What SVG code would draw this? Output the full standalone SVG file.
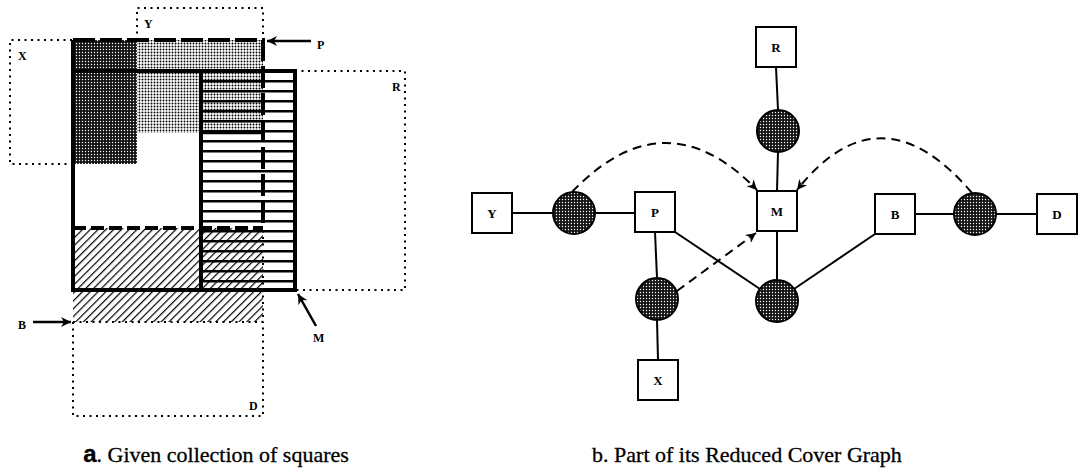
<svg xmlns="http://www.w3.org/2000/svg" width="1080" height="475" viewBox="0 0 1080 475">
<style>
.thick{stroke:#000;stroke-width:4;fill:none}
.pdash{stroke:#000;stroke-width:4;fill:none;stroke-dasharray:22 5}
.dot{stroke:#000;stroke-width:2;fill:none;stroke-dasharray:2 4.5}
.lbl{font-family:"Liberation Serif",serif;font-weight:bold;font-size:12px;fill:#000}
.glbl{font-family:"Liberation Serif",serif;font-weight:bold;font-size:13px;fill:#000;text-anchor:middle}
.node rect{fill:#fff;stroke:#000;stroke-width:2}
.hub circle{fill:url(#dark);stroke:#000;stroke-width:2}
.edge{stroke:#000;stroke-width:2;fill:none}
.dash{stroke:#000;stroke-width:2;fill:none;stroke-dasharray:9 6}
.cap{font-family:"Liberation Serif",serif;font-size:22px;fill:#000;stroke:#000;stroke-width:0.3;text-anchor:middle}
.arr{stroke:#000;stroke-width:2.5;fill:none}
</style>
<defs>
<pattern id="dark" width="3" height="3" patternUnits="userSpaceOnUse">
<rect width="3" height="3" fill="#151515"/>
<circle cx="1.5" cy="1.5" r="0.7" fill="#fff"/>
</pattern>
<pattern id="light" width="3" height="3" patternUnits="userSpaceOnUse">
<rect width="3" height="3" fill="#fff"/>
<circle cx="1.5" cy="1.5" r="0.95" fill="#000"/>
</pattern>
<pattern id="stripes" width="10" height="10" patternUnits="userSpaceOnUse">
<rect y="0" width="10" height="2.5" fill="#000"/>
</pattern>
<pattern id="hatch" width="5.5" height="5.5" patternUnits="userSpaceOnUse" patternTransform="rotate(45)">
<line x1="0" y1="0" x2="0" y2="5.5" stroke="#000" stroke-width="2.4"/>
</pattern>
<marker id="ah" viewBox="0 0 10 10" refX="10" refY="5" markerWidth="12" markerHeight="10" markerUnits="userSpaceOnUse" orient="auto">
<path d="M0,0 L10,5 L0,10 L3,5 z" fill="#000"/>
</marker>
</defs>

<!-- a. collection of squares -->
<g id="squares">
<rect x="137" y="40" width="126" height="93" fill="url(#light)"/>
<rect x="72" y="40" width="65" height="124" fill="url(#dark)"/>
<rect x="73" y="228" width="190" height="94" fill="url(#hatch)"/>
<rect x="201" y="71" width="94" height="219" fill="url(#stripes)"/>
<!-- dotted outlines -->
<path class="dot" d="M72,40 H10 V164 H72"/>
<path class="dot" d="M137,40 V8 H263 V40"/>
<path class="dot" d="M295,71 H405 V290 H295"/>
<path class="dot" d="M73,322 H263 V228"/>
<path class="dot" d="M73,322 V416 H263 V322"/>
<!-- P dashed -->
<path class="pdash" d="M73,40 H263 V228"/>
<path class="pdash" d="M73,228 H263" style="stroke-dasharray:13 5"/>
<!-- M solid -->
<rect class="thick" x="73" y="71" width="222" height="219"/>
<path class="thick" d="M73,40 V71"/>
<path class="thick" d="M201,71 V290"/>
<path class="thick" d="M201,133 H263" style="stroke-width:2.5"/>
<!-- pointer arrows -->
<line class="arr" x1="311" y1="41" x2="267" y2="41" marker-end="url(#ah)"/>
<line class="arr" x1="33" y1="322" x2="71" y2="322" marker-end="url(#ah)"/>
<line class="arr" x1="316" y1="326" x2="298" y2="294" marker-end="url(#ah)"/>
<text class="lbl" x="18" y="60">X</text>
<text class="lbl" x="144" y="28">Y</text>
<text class="lbl" x="317" y="49">P</text>
<text class="lbl" x="392" y="91">R</text>
<text class="lbl" x="18" y="329">B</text>
<text class="lbl" x="313" y="342">M</text>
<text class="lbl" x="249" y="410">D</text>
</g>

<!-- b. cover graph connectors -->
<g id="connectors">
<line class="edge" x1="512" y1="213" x2="553" y2="213"/>
<line class="edge" x1="595" y1="213" x2="635" y2="213"/>
<line class="edge" x1="776" y1="67" x2="778" y2="110"/>
<line class="edge" x1="778" y1="152" x2="777" y2="191"/>
<line class="edge" x1="777" y1="231" x2="777" y2="280"/>
<line class="edge" x1="675" y1="232" x2="760" y2="289"/>
<line class="edge" x1="794" y1="289" x2="875" y2="234"/>
<line class="edge" x1="915" y1="214" x2="954" y2="214"/>
<line class="edge" x1="996" y1="214" x2="1037" y2="214"/>
<line class="edge" x1="655" y1="232" x2="657" y2="278"/>
<line class="edge" x1="657" y1="320" x2="658" y2="360"/>
<path class="dash" d="M572,192 Q665,95 757,190" marker-end="url(#ah)"/>
<path class="dash" d="M972,193 Q880,85 797,190" marker-end="url(#ah)"/>
<path class="dash" d="M677,291 L756,233" marker-end="url(#ah)"/>
</g>

<g id="node-R" class="node"><rect x="756" y="27" width="40" height="40"/><text class="glbl" x="776" y="52">R</text></g>
<g id="node-Y" class="node"><rect x="472" y="193" width="40" height="40"/><text class="glbl" x="492" y="218">Y</text></g>
<g id="node-P" class="node"><rect x="635" y="192" width="40" height="40"/><text class="glbl" x="655" y="217">P</text></g>
<g id="node-M" class="node"><rect x="757" y="191" width="40" height="40"/><text class="glbl" x="777" y="216">M</text></g>
<g id="node-B" class="node"><rect x="875" y="194" width="40" height="40"/><text class="glbl" x="895" y="219">B</text></g>
<g id="node-D" class="node"><rect x="1037" y="194" width="40" height="40"/><text class="glbl" x="1057" y="219">D</text></g>
<g id="node-X" class="node"><rect x="638" y="360" width="40" height="40"/><text class="glbl" x="658" y="385">X</text></g>

<g id="hub-YP" class="hub"><circle cx="574" cy="213" r="21"/></g>
<g id="hub-RM" class="hub"><circle cx="778" cy="131" r="21"/></g>
<g id="hub-BD" class="hub"><circle cx="975" cy="214" r="21"/></g>
<g id="hub-PX" class="hub"><circle cx="657" cy="299" r="21"/></g>
<g id="hub-M" class="hub"><circle cx="777" cy="301" r="21"/></g>

<text class="cap" x="216" y="462"><tspan font-family="Liberation Sans, sans-serif" font-weight="bold" font-size="24">a</tspan>. Given collection of squares</text>
<text class="cap" x="747" y="462">b.  Part of its Reduced Cover Graph</text>
</svg>
